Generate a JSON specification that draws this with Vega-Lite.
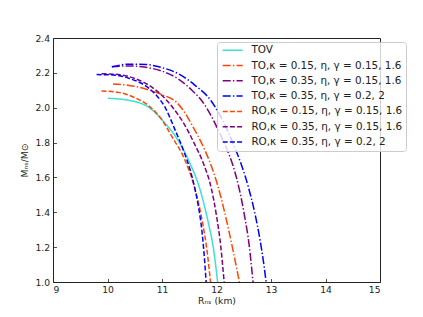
{
  "$schema": "https://vega.github.io/schema/vega-lite/v6.json",
  "width": 327,
  "height": 244,
  "autosize": {"type": "none"},
  "padding": {"left": 53, "top": 38, "right": 43, "bottom": 35},
  "background": "white",
  "config": {
    "font": "DejaVu Sans",
    "view": {"stroke": "#222", "strokeWidth": 1},
    "axis": {"grid": false, "domain": false, "tickColor": "#222", "labelColor": "#222", "titleColor": "#222", "labelFontSize": 9.2, "titleFontSize": 9.2, "titleFontWeight": "normal", "tickSize": -3.5, "tickWidth": 0.8}
  },
  "data": {"values": [
    {"s": "TOV", "R": 10.01, "M": 2.054},
    {"s": "TOV", "R": 10.4, "M": 2.042},
    {"s": "TOV", "R": 10.78, "M": 1.997},
    {"s": "TOV", "R": 11.03, "M": 1.92},
    {"s": "TOV", "R": 11.3, "M": 1.81},
    {"s": "TOV", "R": 11.5, "M": 1.69},
    {"s": "TOV", "R": 11.7, "M": 1.528},
    {"s": "TOV", "R": 11.85, "M": 1.34},
    {"s": "TOV", "R": 11.95, "M": 1.18},
    {"s": "TOV", "R": 12.02, "M": 1.0},

    {"s": "TO,κ = 0.15, η, γ = 0.15, 1.6", "R": 10.1, "M": 2.136},
    {"s": "TO,κ = 0.15, η, γ = 0.15, 1.6", "R": 10.4, "M": 2.128},
    {"s": "TO,κ = 0.15, η, γ = 0.15, 1.6", "R": 10.78, "M": 2.1},
    {"s": "TO,κ = 0.15, η, γ = 0.15, 1.6", "R": 11.0, "M": 2.075},
    {"s": "TO,κ = 0.15, η, γ = 0.15, 1.6", "R": 11.27, "M": 2.03},
    {"s": "TO,κ = 0.15, η, γ = 0.15, 1.6", "R": 11.39, "M": 1.985},
    {"s": "TO,κ = 0.15, η, γ = 0.15, 1.6", "R": 11.56, "M": 1.895},
    {"s": "TO,κ = 0.15, η, γ = 0.15, 1.6", "R": 11.76, "M": 1.775},
    {"s": "TO,κ = 0.15, η, γ = 0.15, 1.6", "R": 11.9, "M": 1.67},
    {"s": "TO,κ = 0.15, η, γ = 0.15, 1.6", "R": 12.02, "M": 1.556},
    {"s": "TO,κ = 0.15, η, γ = 0.15, 1.6", "R": 12.14, "M": 1.412},
    {"s": "TO,κ = 0.15, η, γ = 0.15, 1.6", "R": 12.28, "M": 1.216},
    {"s": "TO,κ = 0.15, η, γ = 0.15, 1.6", "R": 12.42, "M": 1.0},

    {"s": "TO,κ = 0.35, η, γ = 0.15, 1.6", "R": 10.08, "M": 2.235},
    {"s": "TO,κ = 0.35, η, γ = 0.15, 1.6", "R": 10.4, "M": 2.24},
    {"s": "TO,κ = 0.35, η, γ = 0.15, 1.6", "R": 10.7, "M": 2.232},
    {"s": "TO,κ = 0.35, η, γ = 0.15, 1.6", "R": 11.0, "M": 2.21},
    {"s": "TO,κ = 0.35, η, γ = 0.15, 1.6", "R": 11.3, "M": 2.165},
    {"s": "TO,κ = 0.35, η, γ = 0.15, 1.6", "R": 11.55, "M": 2.1},
    {"s": "TO,κ = 0.35, η, γ = 0.15, 1.6", "R": 11.73, "M": 2.04},
    {"s": "TO,κ = 0.35, η, γ = 0.15, 1.6", "R": 11.9, "M": 1.955},
    {"s": "TO,κ = 0.35, η, γ = 0.15, 1.6", "R": 12.05, "M": 1.86},
    {"s": "TO,κ = 0.35, η, γ = 0.15, 1.6", "R": 12.18, "M": 1.77},
    {"s": "TO,κ = 0.35, η, γ = 0.15, 1.6", "R": 12.3, "M": 1.67},
    {"s": "TO,κ = 0.35, η, γ = 0.15, 1.6", "R": 12.42, "M": 1.53},
    {"s": "TO,κ = 0.35, η, γ = 0.15, 1.6", "R": 12.52, "M": 1.37},
    {"s": "TO,κ = 0.35, η, γ = 0.15, 1.6", "R": 12.6, "M": 1.21},
    {"s": "TO,κ = 0.35, η, γ = 0.15, 1.6", "R": 12.67, "M": 1.0},

    {"s": "TO,κ = 0.35, η, γ = 0.2, 2", "R": 10.08, "M": 2.235},
    {"s": "TO,κ = 0.35, η, γ = 0.2, 2", "R": 10.4, "M": 2.25},
    {"s": "TO,κ = 0.35, η, γ = 0.2, 2", "R": 10.7, "M": 2.248},
    {"s": "TO,κ = 0.35, η, γ = 0.2, 2", "R": 11.0, "M": 2.23},
    {"s": "TO,κ = 0.35, η, γ = 0.2, 2", "R": 11.33, "M": 2.19},
    {"s": "TO,κ = 0.35, η, γ = 0.2, 2", "R": 11.6, "M": 2.13},
    {"s": "TO,κ = 0.35, η, γ = 0.2, 2", "R": 11.9, "M": 2.04},
    {"s": "TO,κ = 0.35, η, γ = 0.2, 2", "R": 12.05, "M": 1.965},
    {"s": "TO,κ = 0.35, η, γ = 0.2, 2", "R": 12.2, "M": 1.87},
    {"s": "TO,κ = 0.35, η, γ = 0.2, 2", "R": 12.33, "M": 1.775},
    {"s": "TO,κ = 0.35, η, γ = 0.2, 2", "R": 12.46, "M": 1.67},
    {"s": "TO,κ = 0.35, η, γ = 0.2, 2", "R": 12.58, "M": 1.55},
    {"s": "TO,κ = 0.35, η, γ = 0.2, 2", "R": 12.7, "M": 1.4},
    {"s": "TO,κ = 0.35, η, γ = 0.2, 2", "R": 12.8, "M": 1.24},
    {"s": "TO,κ = 0.35, η, γ = 0.2, 2", "R": 12.86, "M": 1.12},
    {"s": "TO,κ = 0.35, η, γ = 0.2, 2", "R": 12.91, "M": 1.0},

    {"s": "RO,κ = 0.15, η, γ = 0.15, 1.6", "R": 9.89, "M": 2.096},
    {"s": "RO,κ = 0.15, η, γ = 0.15, 1.6", "R": 10.2, "M": 2.088},
    {"s": "RO,κ = 0.15, η, γ = 0.15, 1.6", "R": 10.5, "M": 2.058},
    {"s": "RO,κ = 0.15, η, γ = 0.15, 1.6", "R": 10.78, "M": 2.005},
    {"s": "RO,κ = 0.15, η, γ = 0.15, 1.6", "R": 11.0, "M": 1.93},
    {"s": "RO,κ = 0.15, η, γ = 0.15, 1.6", "R": 11.18, "M": 1.835},
    {"s": "RO,κ = 0.15, η, γ = 0.15, 1.6", "R": 11.42, "M": 1.7},
    {"s": "RO,κ = 0.15, η, γ = 0.15, 1.6", "R": 11.61, "M": 1.528},
    {"s": "RO,κ = 0.15, η, γ = 0.15, 1.6", "R": 11.75, "M": 1.33},
    {"s": "RO,κ = 0.15, η, γ = 0.15, 1.6", "R": 11.83, "M": 1.17},
    {"s": "RO,κ = 0.15, η, γ = 0.15, 1.6", "R": 11.89, "M": 1.0},

    {"s": "RO,κ = 0.35, η, γ = 0.15, 1.6", "R": 9.89, "M": 2.195},
    {"s": "RO,κ = 0.35, η, γ = 0.15, 1.6", "R": 10.2, "M": 2.19},
    {"s": "RO,κ = 0.35, η, γ = 0.15, 1.6", "R": 10.5, "M": 2.168},
    {"s": "RO,κ = 0.35, η, γ = 0.15, 1.6", "R": 10.78, "M": 2.125},
    {"s": "RO,κ = 0.35, η, γ = 0.15, 1.6", "R": 11.0, "M": 2.07},
    {"s": "RO,κ = 0.35, η, γ = 0.15, 1.6", "R": 11.2, "M": 2.0},
    {"s": "RO,κ = 0.35, η, γ = 0.15, 1.6", "R": 11.4, "M": 1.91},
    {"s": "RO,κ = 0.35, η, γ = 0.15, 1.6", "R": 11.6, "M": 1.79},
    {"s": "RO,κ = 0.35, η, γ = 0.15, 1.6", "R": 11.76, "M": 1.68},
    {"s": "RO,κ = 0.35, η, γ = 0.15, 1.6", "R": 11.91, "M": 1.53},
    {"s": "RO,κ = 0.35, η, γ = 0.15, 1.6", "R": 12.0, "M": 1.38},
    {"s": "RO,κ = 0.35, η, γ = 0.15, 1.6", "R": 12.08, "M": 1.2},
    {"s": "RO,κ = 0.35, η, γ = 0.15, 1.6", "R": 12.14, "M": 1.0},

    {"s": "RO,κ = 0.35, η, γ = 0.2, 2", "R": 9.8, "M": 2.19},
    {"s": "RO,κ = 0.35, η, γ = 0.2, 2", "R": 10.1, "M": 2.188},
    {"s": "RO,κ = 0.35, η, γ = 0.2, 2", "R": 10.4, "M": 2.168},
    {"s": "RO,κ = 0.35, η, γ = 0.2, 2", "R": 10.7, "M": 2.125},
    {"s": "RO,κ = 0.35, η, γ = 0.2, 2", "R": 10.9, "M": 2.07},
    {"s": "RO,κ = 0.35, η, γ = 0.2, 2", "R": 11.05, "M": 2.006},
    {"s": "RO,κ = 0.35, η, γ = 0.2, 2", "R": 11.23, "M": 1.88},
    {"s": "RO,κ = 0.35, η, γ = 0.2, 2", "R": 11.4, "M": 1.75},
    {"s": "RO,κ = 0.35, η, γ = 0.2, 2", "R": 11.51, "M": 1.65},
    {"s": "RO,κ = 0.35, η, γ = 0.2, 2", "R": 11.6, "M": 1.54},
    {"s": "RO,κ = 0.35, η, γ = 0.2, 2", "R": 11.67, "M": 1.43},
    {"s": "RO,κ = 0.35, η, γ = 0.2, 2", "R": 11.73, "M": 1.3},
    {"s": "RO,κ = 0.35, η, γ = 0.2, 2", "R": 11.77, "M": 1.17},
    {"s": "RO,κ = 0.35, η, γ = 0.2, 2", "R": 11.81, "M": 1.0}
  ]},
  "mark": {"type": "line", "interpolate": "monotone", "strokeWidth": 1.5, "clip": true},
  "encoding": {
    "x": {"field": "R", "type": "quantitative", "scale": {"domain": [9, 15], "nice": false},
      "axis": {"values": [9, 10, 11, 12, 13, 14, 15], "format": "d", "title": "Rₙₛ (km)", "labelPadding": 7, "titlePadding": 2}},
    "y": {"field": "M", "type": "quantitative", "scale": {"domain": [1.0, 2.4], "nice": false, "zero": false},
      "axis": {"values": [1.0, 1.2, 1.4, 1.6, 1.8, 2.0, 2.2, 2.4], "format": ".1f", "title": "Mₙₛ/M⊙", "labelPadding": 7, "titlePadding": 5}},
    "color": {"field": "s", "type": "nominal",
      "scale": {"domain": ["TOV", "TO,κ = 0.15, η, γ = 0.15, 1.6", "TO,κ = 0.35, η, γ = 0.15, 1.6", "TO,κ = 0.35, η, γ = 0.2, 2", "RO,κ = 0.15, η, γ = 0.15, 1.6", "RO,κ = 0.35, η, γ = 0.15, 1.6", "RO,κ = 0.35, η, γ = 0.2, 2"],
        "range": ["#40E0D0", "#FF4500", "#800080", "#0000FF", "#FF4500", "#800080", "#0000FF"]},
      "legend": {"title": null, "orient": "none", "legendX": 164, "legendY": 4, "symbolType": "M-4,0H4", "symbolSize": 25, "symbolStrokeWidth": 1.5, "labelFontSize": 10.4, "labelColor": "#222", "rowPadding": 4.3, "padding": 3, "strokeColor": "#ccc", "fillColor": "rgba(255,255,255,0.8)", "cornerRadius": 3, "symbolOffset": 7.5, "labelOffset": 13.5, "labelLimit": 300}},
    "strokeDash": {"field": "s", "type": "nominal",
      "scale": {"domain": ["TOV", "TO,κ = 0.15, η, γ = 0.15, 1.6", "TO,κ = 0.35, η, γ = 0.15, 1.6", "TO,κ = 0.35, η, γ = 0.2, 2", "RO,κ = 0.15, η, γ = 0.15, 1.6", "RO,κ = 0.35, η, γ = 0.15, 1.6", "RO,κ = 0.35, η, γ = 0.2, 2"],
        "range": [[1, 0], [8, 2.2, 1.4, 2.2], [8, 2.2, 1.4, 2.2], [8, 2.2, 1.4, 2.2], [5, 2.2], [5, 2.2], [5, 2.2]]},
      "legend": {"title": null, "orient": "none", "legendX": 164, "legendY": 4, "symbolType": "M-4,0H4", "symbolSize": 25, "symbolStrokeWidth": 1.5, "labelFontSize": 10.4, "labelColor": "#222", "rowPadding": 4.3, "padding": 3, "strokeColor": "#ccc", "fillColor": "rgba(255,255,255,0.8)", "cornerRadius": 3, "symbolOffset": 7.5, "labelOffset": 13.5, "labelLimit": 300}}
  }
}
